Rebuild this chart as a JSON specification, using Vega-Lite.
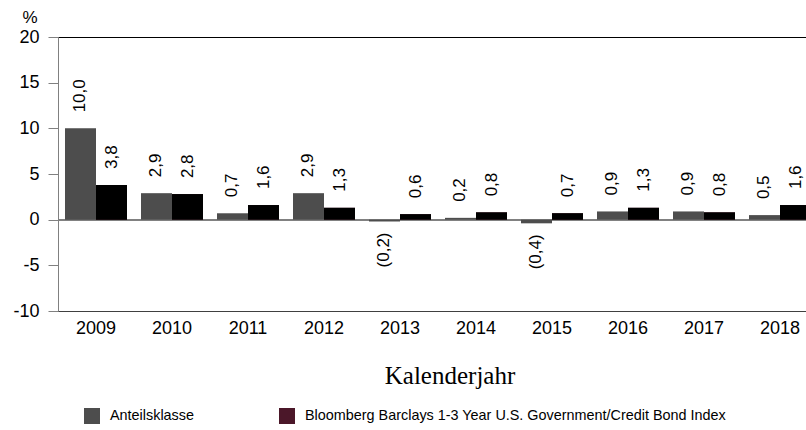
{
  "$schema": "https://vega.github.io/schema/vega-lite/v6.json",
  "autosize": {"type": "none"},
  "width": 748,
  "height": 274,
  "padding": {"left": 58, "top": 37, "right": 0, "bottom": 119},
  "background": "white",
  "config": {
    "view": {"stroke": "#000000", "strokeWidth": 1},
    "font": "Liberation Sans"
  },
  "data": {
    "values": [
      {"year": "2009", "series": "Anteilsklasse", "value": 10.0, "label": "10,0"},
      {"year": "2009", "series": "Bloomberg Barclays 1-3 Year U.S. Government/Credit Bond Index", "value": 3.8, "label": "3,8"},
      {"year": "2010", "series": "Anteilsklasse", "value": 2.9, "label": "2,9"},
      {"year": "2010", "series": "Bloomberg Barclays 1-3 Year U.S. Government/Credit Bond Index", "value": 2.8, "label": "2,8"},
      {"year": "2011", "series": "Anteilsklasse", "value": 0.7, "label": "0,7"},
      {"year": "2011", "series": "Bloomberg Barclays 1-3 Year U.S. Government/Credit Bond Index", "value": 1.6, "label": "1,6"},
      {"year": "2012", "series": "Anteilsklasse", "value": 2.9, "label": "2,9"},
      {"year": "2012", "series": "Bloomberg Barclays 1-3 Year U.S. Government/Credit Bond Index", "value": 1.3, "label": "1,3"},
      {"year": "2013", "series": "Anteilsklasse", "value": -0.2, "label": "(0,2)"},
      {"year": "2013", "series": "Bloomberg Barclays 1-3 Year U.S. Government/Credit Bond Index", "value": 0.6, "label": "0,6"},
      {"year": "2014", "series": "Anteilsklasse", "value": 0.2, "label": "0,2"},
      {"year": "2014", "series": "Bloomberg Barclays 1-3 Year U.S. Government/Credit Bond Index", "value": 0.8, "label": "0,8"},
      {"year": "2015", "series": "Anteilsklasse", "value": -0.4, "label": "(0,4)"},
      {"year": "2015", "series": "Bloomberg Barclays 1-3 Year U.S. Government/Credit Bond Index", "value": 0.7, "label": "0,7"},
      {"year": "2016", "series": "Anteilsklasse", "value": 0.9, "label": "0,9"},
      {"year": "2016", "series": "Bloomberg Barclays 1-3 Year U.S. Government/Credit Bond Index", "value": 1.3, "label": "1,3"},
      {"year": "2017", "series": "Anteilsklasse", "value": 0.9, "label": "0,9"},
      {"year": "2017", "series": "Bloomberg Barclays 1-3 Year U.S. Government/Credit Bond Index", "value": 0.8, "label": "0,8"},
      {"year": "2018", "series": "Anteilsklasse", "value": 0.5, "label": "0,5"},
      {"year": "2018", "series": "Bloomberg Barclays 1-3 Year U.S. Government/Credit Bond Index", "value": 1.6, "label": "1,6"}
    ]
  },
  "encoding": {
    "x": {
      "field": "year",
      "type": "ordinal",
      "scale": {"range": [0, 760], "paddingInner": 0.1842, "paddingOuter": 0.0921},
      "axis": {
        "title": "Kalenderjahr",
        "titleFont": "Liberation Serif",
        "titleFontSize": 25,
        "titleFontWeight": "normal",
        "titleColor": "#000000",
        "titleX": 391.5,
        "titleY": 72,
        "titleAnchor": null,
        "titleAlign": "center",
        "titleBaseline": "alphabetic",
        "labelAngle": 0,
        "labelFontSize": 18,
        "labelColor": "#000000",
        "labelPadding": 8,
        "ticks": false,
        "domainColor": "#404040",
        "grid": false
      }
    },
    "xOffset": {
      "field": "series",
      "type": "nominal",
      "sort": ["Anteilsklasse", "Bloomberg Barclays 1-3 Year U.S. Government/Credit Bond Index"],
      "scale": {"paddingInner": 0, "paddingOuter": 0}
    },
    "y": {
      "field": "value",
      "type": "quantitative",
      "scale": {"domain": [-10, 20], "nice": false, "zero": false},
      "axis": {
        "values": [-10, -5, 0, 5, 10, 15, 20],
        "labelExpr": "replace(datum.label, '\u2212', '-')",
        "title": "%",
        "titleAngle": 0,
        "titleFontSize": 17,
        "titleFontWeight": "normal",
        "titleColor": "#000000",
        "titleX": -28.5,
        "titleY": -15,
        "titleAlign": "center",
        "titleBaseline": "alphabetic",
        "labelFontSize": 18,
        "labelColor": "#000000",
        "labelPadding": 9,
        "tickSize": 10,
        "tickColor": "#808080",
        "domainColor": "#808080",
        "grid": false
      }
    }
  },
  "layer": [
    {
      "mark": {"type": "rule", "color": "#808080", "strokeWidth": 1},
      "encoding": {"y": {"datum": 0}, "x": null, "xOffset": null}
    },
    {
      "mark": {"type": "bar", "opacity": 1},
      "encoding": {
        "color": {
          "field": "series",
          "type": "nominal",
          "sort": ["Anteilsklasse", "Bloomberg Barclays 1-3 Year U.S. Government/Credit Bond Index"],
          "scale": {"range": ["#4d4d4d", "#4b1729"]},
          "legend": {
            "title": null,
            "orient": "none",
            "legendX": 26,
            "legendY": 371,
            "direction": "horizontal",
            "columns": 2,
            "columnPadding": 85,
            "padding": 0,
            "symbolType": "square",
            "symbolSize": 256,
            "symbolStrokeWidth": 0,
            "symbolOpacity": 1,
            "labelFontSize": 14.4,
            "labelColor": "#000000",
            "labelOffset": 10,
            "labelLimit": 600
          }
        }
      }
    },
    {
      "transform": [{"filter": "datum.series !== 'Anteilsklasse'"}],
      "mark": {"type": "bar", "color": "#000000", "opacity": 1}
    },
    {
      "transform": [{"filter": "datum.value >= 0"}],
      "mark": {"type": "text", "angle": 270, "align": "left", "baseline": "middle", "dx": 16, "fontSize": 17, "color": "#000000"},
      "encoding": {"text": {"field": "label"}}
    },
    {
      "transform": [{"filter": "datum.value < 0"}],
      "mark": {"type": "text", "angle": 270, "align": "right", "baseline": "middle", "dx": -11, "fontSize": 17, "color": "#000000"},
      "encoding": {"text": {"field": "label"}}
    }
  ]
}
